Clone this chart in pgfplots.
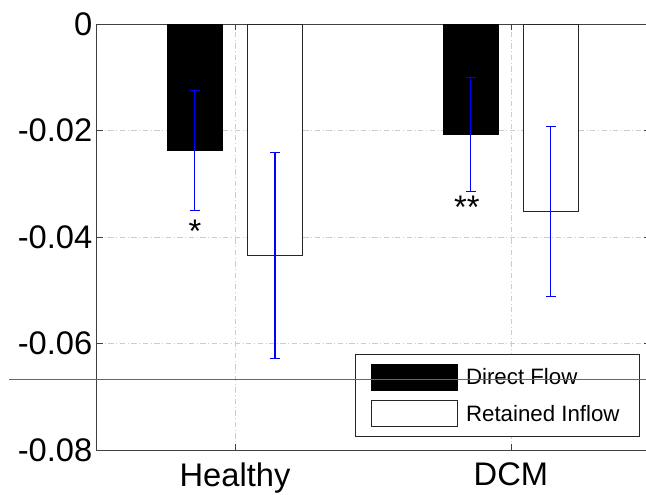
\documentclass[border=0pt]{standalone}
\usepackage{pgfplots}
\pgfplotsset{compat=1.18}
\usepackage{fontspec}
\setmainfont{Liberation Sans}
\pgfplotsset{
  mybarlegend/.style={legend image code/.code={\draw[##1] (0pt,-9.25pt) rectangle (64.5pt,10.25pt);}}
}
\begin{document}
\begin{tikzpicture}
\useasboundingbox (0,0) rectangle (484.5pt,370.5pt);
\clip (0,0) rectangle (484.5pt,370.5pt);
\begin{axis}[
  at={(72.75pt,33pt)}, anchor=south west,
  scale only axis, width=414.75pt, height=319.5pt,
  xmin=0.5, xmax=2.504, ymin=-0.08, ymax=0,
  xtick={1,2}, xticklabels={Healthy,DCM},
  ytick={-0.08,-0.06,-0.04,-0.02,0},
  yticklabels={-0.08,-0.06,-0.04,-0.02,0},
  scaled y ticks=false,
  /pgf/number format/assume math mode=true,
  tick label style={font=\fontsize{24.5}{28}\selectfont},
  xticklabel style={yshift=-6pt},
  tick align=inside, major tick length=4.5pt,
  tick style={black!75, line width=0.6pt},
  axis line style={black!75, line width=0.75pt},
  grid=major,
  major grid style={gray!40, line width=0.5pt, dash pattern=on 4pt off 2pt on 0.6pt off 2pt},
  legend style={at={(0.982,0.0305)}, anchor=south east, draw=black!85, line width=0.75pt,
    font=\fontsize{16.7}{19}\selectfont, inner xsep=12pt, inner ysep=6.75pt,
    nodes={inner sep=3pt}, row sep=7pt, column sep=3pt},
  legend cell align=left,
]
\addplot[ybar, bar width=0.2, bar shift=0pt, fill=black, draw=black, line width=0.75pt, mybarlegend,
  error bars/.cd, y dir=both, y explicit,
  error bar style={blue, line width=0.8pt},
  error mark options={rotate=90, blue, mark size=3.5pt, line width=0.8pt}]
  coordinates {(0.855,-0.0238) +- (0,0.0113) (1.855,-0.0208) +- (0,0.0107)};
\addlegendentry{Direct Flow}
\addplot[ybar, bar width=0.2, bar shift=0pt, fill=white, draw=black!85, line width=0.75pt, mybarlegend,
  error bars/.cd, y dir=both, y explicit,
  error bar style={blue, line width=0.8pt},
  error mark options={rotate=90, blue, mark size=3.5pt, line width=0.8pt}]
  coordinates {(1.145,-0.0435) +- (0,0.0194) (2.145,-0.0352) +- (0,0.0160)};
\addlegendentry{Retained Inflow}
\node[anchor=base, font=\fontsize{24.5}{28}\selectfont, inner sep=0pt] at (axis cs:0.855,-0.0411) {*};
\node[anchor=base, font=\fontsize{24.5}{28}\selectfont, inner sep=0pt] at (axis cs:1.84,-0.0366) {**};
\end{axis}
\draw[black!60, line width=0.75pt] (6.75pt,86.25pt) -- (484.5pt,86.25pt);
\end{tikzpicture}
\end{document}
